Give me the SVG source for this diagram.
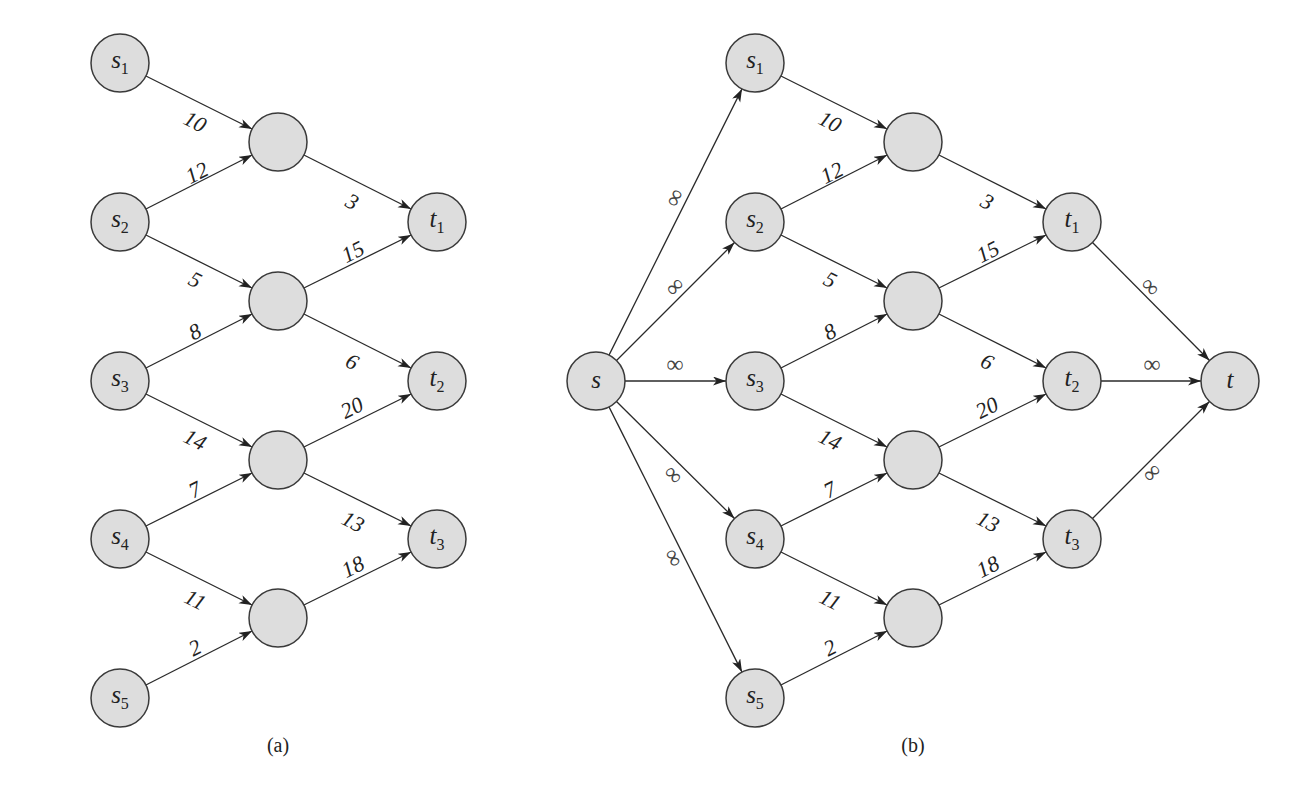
<svg xmlns="http://www.w3.org/2000/svg" width="1294" height="790" viewBox="0 0 1294 790">
<style>
.n{fill:#dddddd;stroke:#3a3a3a;stroke-width:1.5}
.e{stroke:#2a2a2a;stroke-width:1.3;fill:none;marker-end:url(#ah)}
.lab{font-family:"Liberation Serif","Times New Roman",serif;font-style:italic;font-size:25px;fill:#222;text-anchor:middle}
.lab .sub{font-style:normal;font-size:16px}
.w{font-family:"Liberation Serif","Times New Roman",serif;font-style:italic;font-size:22px;fill:#222;text-anchor:middle}
.inf{font-family:"Liberation Serif","DejaVu Serif",serif;font-size:24px;fill:#444;text-anchor:middle}
.cap{font-family:"Liberation Serif","Times New Roman",serif;font-size:20px;fill:#222;text-anchor:middle}
</style>
<defs>
<marker id="ah" markerUnits="userSpaceOnUse" markerWidth="14" markerHeight="10" refX="13" refY="4.5" orient="auto">
<path d="M0,0 L13,4.5 L0,9 L3.5,4.5 z" fill="#222"/>
</marker>
</defs>
<rect width="1294" height="790" fill="#ffffff"/>
<g id="connectors">
<path class="e" d="M145.9,76 L252.1,129"/>
<path class="e" d="M145.9,209 L252.1,155"/>
<path class="e" d="M145.9,235 L252.1,288"/>
<path class="e" d="M145.9,368 L252.1,314"/>
<path class="e" d="M145.9,394 L252.1,447"/>
<path class="e" d="M145.9,526 L252.1,473"/>
<path class="e" d="M145.9,552 L252.1,605"/>
<path class="e" d="M145.9,685 L252.1,631"/>
<path class="e" d="M303.9,155 L411.1,209"/>
<path class="e" d="M303.9,288 L411.1,235"/>
<path class="e" d="M303.9,314 L411.1,368"/>
<path class="e" d="M303.9,447 L411.1,394"/>
<path class="e" d="M303.9,473 L411.1,526"/>
<path class="e" d="M303.9,605 L411.1,552"/>
<g transform="translate(635,0)">
<path class="e" d="M145.9,76 L252.1,129"/>
<path class="e" d="M145.9,209 L252.1,155"/>
<path class="e" d="M145.9,235 L252.1,288"/>
<path class="e" d="M145.9,368 L252.1,314"/>
<path class="e" d="M145.9,394 L252.1,447"/>
<path class="e" d="M145.9,526 L252.1,473"/>
<path class="e" d="M145.9,552 L252.1,605"/>
<path class="e" d="M145.9,685 L252.1,631"/>
<path class="e" d="M303.9,155 L411.1,209"/>
<path class="e" d="M303.9,288 L411.1,235"/>
<path class="e" d="M303.9,314 L411.1,368"/>
<path class="e" d="M303.9,447 L411.1,394"/>
<path class="e" d="M303.9,473 L411.1,526"/>
<path class="e" d="M303.9,605 L411.1,552"/>
</g>
<path class="e" d="M609,355.1 L742,88.9"/>
<path class="e" d="M616.5,360.5 L734.5,242.5"/>
<path class="e" d="M625,381 L726,381"/>
<path class="e" d="M616.5,401.5 L734.5,518.5"/>
<path class="e" d="M609,406.9 L742,672.1"/>
<path class="e" d="M1092.5,242.5 L1209.5,360.5"/>
<path class="e" d="M1101,381 L1201,381"/>
<path class="e" d="M1092.5,518.5 L1209.5,401.5"/>
<g id="weights-a">
<text class="w" transform="translate(195,122) rotate(26.6)" dy="7">10</text>
<text class="w" transform="translate(197,173) rotate(-26.6)" dy="7">12</text>
<text class="w" transform="translate(195,280) rotate(26.6)" dy="7">5</text>
<text class="w" transform="translate(195,332) rotate(-26.6)" dy="7">8</text>
<text class="w" transform="translate(195,440) rotate(26.6)" dy="7">14</text>
<text class="w" transform="translate(195,490) rotate(-26.6)" dy="7">7</text>
<text class="w" transform="translate(195,600) rotate(26.6)" dy="7">11</text>
<text class="w" transform="translate(195,648) rotate(-26.6)" dy="7">2</text>
<text class="w" transform="translate(352,202) rotate(26.6)" dy="7">3</text>
<text class="w" transform="translate(353,252) rotate(-26.6)" dy="7">15</text>
<text class="w" transform="translate(352,362) rotate(26.6)" dy="7">6</text>
<text class="w" transform="translate(352,408) rotate(-26.6)" dy="7">20</text>
<text class="w" transform="translate(353,522) rotate(26.6)" dy="7">13</text>
<text class="w" transform="translate(353,567) rotate(-26.6)" dy="7">18</text>
</g>
<g id="weights-b" transform="translate(635,0)">
<text class="w" transform="translate(195,122) rotate(26.6)" dy="7">10</text>
<text class="w" transform="translate(197,173) rotate(-26.6)" dy="7">12</text>
<text class="w" transform="translate(195,280) rotate(26.6)" dy="7">5</text>
<text class="w" transform="translate(195,332) rotate(-26.6)" dy="7">8</text>
<text class="w" transform="translate(195,440) rotate(26.6)" dy="7">14</text>
<text class="w" transform="translate(195,490) rotate(-26.6)" dy="7">7</text>
<text class="w" transform="translate(195,600) rotate(26.6)" dy="7">11</text>
<text class="w" transform="translate(195,648) rotate(-26.6)" dy="7">2</text>
<text class="w" transform="translate(352,202) rotate(26.6)" dy="7">3</text>
<text class="w" transform="translate(353,252) rotate(-26.6)" dy="7">15</text>
<text class="w" transform="translate(352,362) rotate(26.6)" dy="7">6</text>
<text class="w" transform="translate(352,408) rotate(-26.6)" dy="7">20</text>
<text class="w" transform="translate(353,522) rotate(26.6)" dy="7">13</text>
<text class="w" transform="translate(353,567) rotate(-26.6)" dy="7">18</text>
</g>
<g id="weights-inf">
<text class="inf" transform="translate(675,198) rotate(-63.4)" dy="7">∞</text>
<text class="inf" transform="translate(675,287) rotate(-45)" dy="7">∞</text>
<text class="inf" transform="translate(675,365)" dy="7">∞</text>
<text class="inf" transform="translate(673,475) rotate(45)" dy="7">∞</text>
<text class="inf" transform="translate(673,558) rotate(63.4)" dy="7">∞</text>
<text class="inf" transform="translate(1150,287) rotate(45)" dy="7">∞</text>
<text class="inf" transform="translate(1152,365)" dy="7">∞</text>
<text class="inf" transform="translate(1152,473) rotate(-45)" dy="7">∞</text>
</g>
</g>
<g id="a-s1"><circle class="n" cx="120" cy="63" r="29"/><text class="lab" x="120" y="68"><tspan>s</tspan><tspan class="sub" dy="6">1</tspan></text></g>
<g id="a-s2"><circle class="n" cx="120" cy="222" r="29"/><text class="lab" x="120" y="227"><tspan>s</tspan><tspan class="sub" dy="6">2</tspan></text></g>
<g id="a-s3"><circle class="n" cx="120" cy="381" r="29"/><text class="lab" x="120" y="386"><tspan>s</tspan><tspan class="sub" dy="6">3</tspan></text></g>
<g id="a-s4"><circle class="n" cx="120" cy="539" r="29"/><text class="lab" x="120" y="544"><tspan>s</tspan><tspan class="sub" dy="6">4</tspan></text></g>
<g id="a-s5"><circle class="n" cx="120" cy="698" r="29"/><text class="lab" x="120" y="703"><tspan>s</tspan><tspan class="sub" dy="6">5</tspan></text></g>
<g id="a-m1"><circle class="n" cx="278" cy="142" r="29"/></g>
<g id="a-m2"><circle class="n" cx="278" cy="301" r="29"/></g>
<g id="a-m3"><circle class="n" cx="278" cy="460" r="29"/></g>
<g id="a-m4"><circle class="n" cx="278" cy="618" r="29"/></g>
<g id="a-t1"><circle class="n" cx="437" cy="222" r="29"/><text class="lab" x="437" y="227"><tspan>t</tspan><tspan class="sub" dy="6">1</tspan></text></g>
<g id="a-t2"><circle class="n" cx="437" cy="381" r="29"/><text class="lab" x="437" y="386"><tspan>t</tspan><tspan class="sub" dy="6">2</tspan></text></g>
<g id="a-t3"><circle class="n" cx="437" cy="539" r="29"/><text class="lab" x="437" y="544"><tspan>t</tspan><tspan class="sub" dy="6">3</tspan></text></g>
<g id="b-s"><circle class="n" cx="596" cy="381" r="29"/><text class="lab" x="596" y="388">s</text></g>
<g id="b-s1"><circle class="n" cx="755" cy="63" r="29"/><text class="lab" x="755" y="68"><tspan>s</tspan><tspan class="sub" dy="6">1</tspan></text></g>
<g id="b-s2"><circle class="n" cx="755" cy="222" r="29"/><text class="lab" x="755" y="227"><tspan>s</tspan><tspan class="sub" dy="6">2</tspan></text></g>
<g id="b-s3"><circle class="n" cx="755" cy="381" r="29"/><text class="lab" x="755" y="386"><tspan>s</tspan><tspan class="sub" dy="6">3</tspan></text></g>
<g id="b-s4"><circle class="n" cx="755" cy="539" r="29"/><text class="lab" x="755" y="544"><tspan>s</tspan><tspan class="sub" dy="6">4</tspan></text></g>
<g id="b-s5"><circle class="n" cx="755" cy="698" r="29"/><text class="lab" x="755" y="703"><tspan>s</tspan><tspan class="sub" dy="6">5</tspan></text></g>
<g id="b-m1"><circle class="n" cx="913" cy="142" r="29"/></g>
<g id="b-m2"><circle class="n" cx="913" cy="301" r="29"/></g>
<g id="b-m3"><circle class="n" cx="913" cy="460" r="29"/></g>
<g id="b-m4"><circle class="n" cx="913" cy="618" r="29"/></g>
<g id="b-t1"><circle class="n" cx="1072" cy="222" r="29"/><text class="lab" x="1072" y="227"><tspan>t</tspan><tspan class="sub" dy="6">1</tspan></text></g>
<g id="b-t2"><circle class="n" cx="1072" cy="381" r="29"/><text class="lab" x="1072" y="386"><tspan>t</tspan><tspan class="sub" dy="6">2</tspan></text></g>
<g id="b-t3"><circle class="n" cx="1072" cy="539" r="29"/><text class="lab" x="1072" y="544"><tspan>t</tspan><tspan class="sub" dy="6">3</tspan></text></g>
<g id="b-t"><circle class="n" cx="1230" cy="381" r="29"/><text class="lab" x="1230" y="388">t</text></g>
<g id="captions">
<text class="cap" x="278" y="752">(a)</text>
<text class="cap" x="913" y="752">(b)</text>
</g>
</svg>
